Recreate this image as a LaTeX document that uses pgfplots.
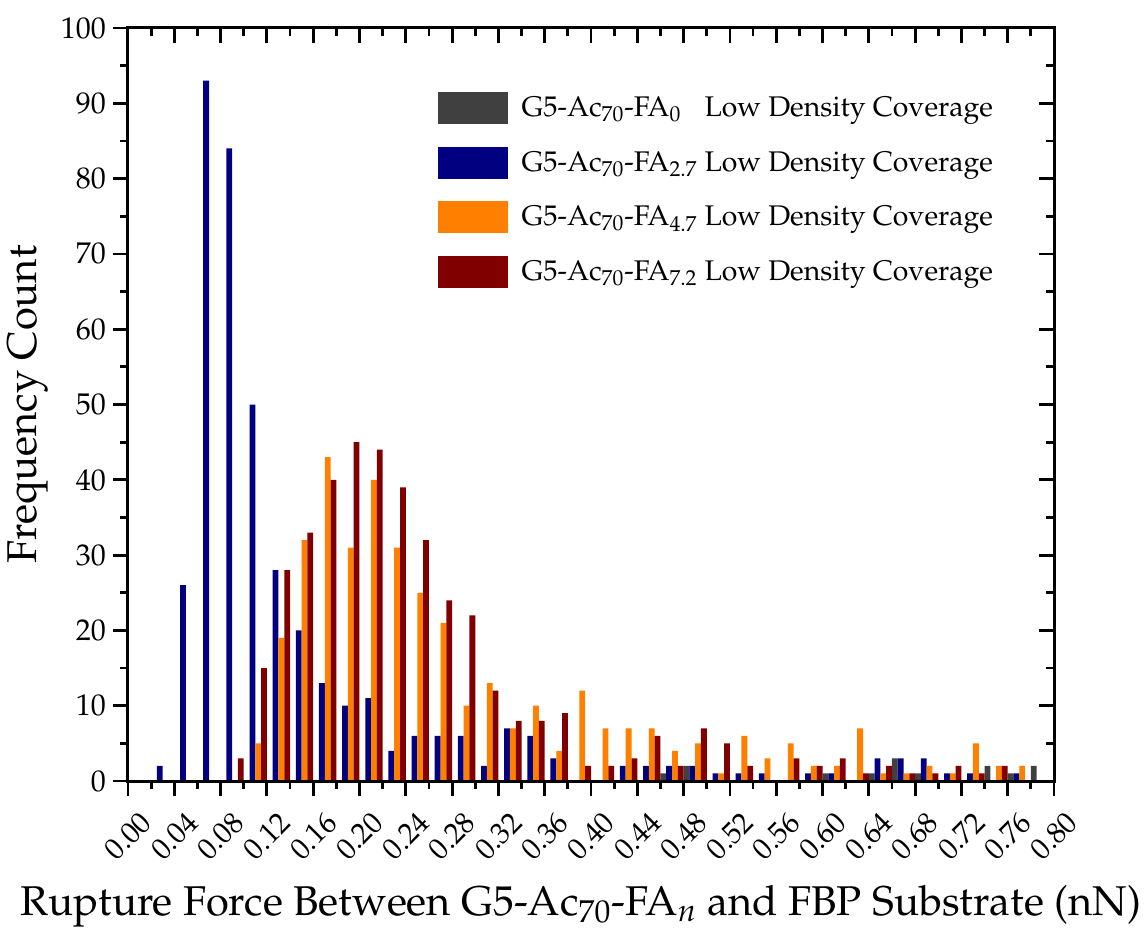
\documentclass[border=0pt]{standalone}
\usepackage[T1]{fontenc}
\usepackage{mathpazo}
\usepackage{pgfplots}
\usepackage{pgfplotstable}
\pgfplotsset{compat=1.18}
\definecolor{cgray}{HTML}{404040}
\definecolor{cblue}{HTML}{000080}
\definecolor{corange}{HTML}{FF8000}
\definecolor{cmaroon}{HTML}{800000}

\pgfplotstableread{
x    g b  o  m
0.00 0 0  0  0
0.02 0 2  0  0
0.04 0 26 0  0
0.06 0 93 0  0
0.08 0 84 0  3
0.10 0 50 5  15
0.12 0 28 19 28
0.14 0 20 32 33
0.16 0 13 43 40
0.18 0 10 31 45
0.20 0 11 40 44
0.22 0 4  31 39
0.24 0 6  25 32
0.26 0 6  21 24
0.28 0 6  10 22
0.30 0 2  13 12
0.32 0 7  7  8
0.34 0 6  10 8
0.36 0 3  4  9
0.38 0 0  12 2
0.40 0 0  7  2
0.42 0 2  7  3
0.44 0 2  7  6
0.46 1 2  4  2
0.48 2 2  5  7
0.50 0 1  1  5
0.52 0 1  6  2
0.54 0 1  3  0
0.56 0 0  5  3
0.58 0 1  2  2
0.60 1 1  2  3
0.62 0 0  7  1
0.64 1 3  1  2
0.66 3 3  1  1
0.68 1 3  2  1
0.70 0 1  1  2
0.72 0 1  5  1
0.74 2 0  2  2
0.76 1 1  2  0
0.78 2 0  0  0
}\data

\pgfplotsset{
  common/.style={
    width=463pt, height=376.5pt, scale only axis,
    xmin=0, xmax=0.8, ymin=0, ymax=100,
    xtick={0,0.04,0.08,0.12,0.16,0.20,0.24,0.28,0.32,0.36,0.40,0.44,0.48,0.52,0.56,0.60,0.64,0.68,0.72,0.76,0.80},
    minor x tick num=1,
    ytick={0,10,20,30,40,50,60,70,80,90,100},
    minor y tick num=1,
    major tick length=7.5pt, minor tick length=4pt,
    axis line style={line width=1.5pt},
    every tick/.style={black, line width=1.4pt},
  }
}

\begin{document}
\begin{tikzpicture}
\begin{axis}[common, name=ax,
  xtick pos=left, ytick pos=left, tick align=outside,
  tick label style={font=\fontsize{15}{18}\selectfont},
  x tick label style={font=\fontsize{14.8}{17}\selectfont,
     /pgf/number format/fixed, /pgf/number format/fixed zerofill, /pgf/number format/precision=2,
     yshift=-20pt, rotate=45, anchor=center},
  xlabel={Rupture Force Between G5-Ac$_{70}$-FA$_{n}$ and FBP Substrate (nN)},
  ylabel={Frequency Count},
  label style={font=\fontsize{20.8}{25}\selectfont},
  xlabel style={at={(axis description cs:0.489,-0.178)}, anchor=base},
  ylabel style={at={(axis description cs:-0.108,0.5)}, anchor=center, rotate=0},
  legend image code/.code={\fill[#1] (0pt,-8pt) rectangle (35pt,8pt);},
  legend style={at={(axis description cs:0.334,0.915)}, anchor=north west, draw=none, fill=none,
     font=\fontsize{14.2}{17}\selectfont, row sep=11.25pt, column sep=7pt, inner sep=0pt,
     nodes={inner sep=0pt, anchor=west}},
  legend cell align=left,
]
\addplot[ybar, bar width=0.005, bar shift=0pt, fill=cgray, draw=none] table[x expr=\thisrow{x}+0.0025, y=g]{\data};
\addlegendentry{G5-Ac$_{70}$-FA$_{0\phantom{.7}}$ Low Density Coverage}
\addplot[ybar, bar width=0.005, bar shift=0pt, fill=cblue, draw=none] table[x expr=\thisrow{x}+0.0075, y=b]{\data};
\addlegendentry{G5-Ac$_{70}$-FA$_{2.7}$ Low Density Coverage}
\addplot[ybar, bar width=0.005, bar shift=0pt, fill=corange, draw=none] table[x expr=\thisrow{x}+0.0125, y=o]{\data};
\addlegendentry{G5-Ac$_{70}$-FA$_{4.7}$ Low Density Coverage}
\addplot[ybar, bar width=0.005, bar shift=0pt, fill=cmaroon, draw=none] table[x expr=\thisrow{x}+0.0175, y=m]{\data};
\addlegendentry{G5-Ac$_{70}$-FA$_{7.2}$ Low Density Coverage}
\end{axis}
\begin{axis}[common,
  xtick pos=right, ytick pos=right, tick align=inside,
  xticklabels={}, yticklabels={},
]
\end{axis}
\pgfresetboundingbox
\path ([xshift=-64pt,yshift=-75.5pt]ax.south west) rectangle ([xshift=46.5pt,yshift=14pt]ax.north east);
\end{tikzpicture}
\end{document}
